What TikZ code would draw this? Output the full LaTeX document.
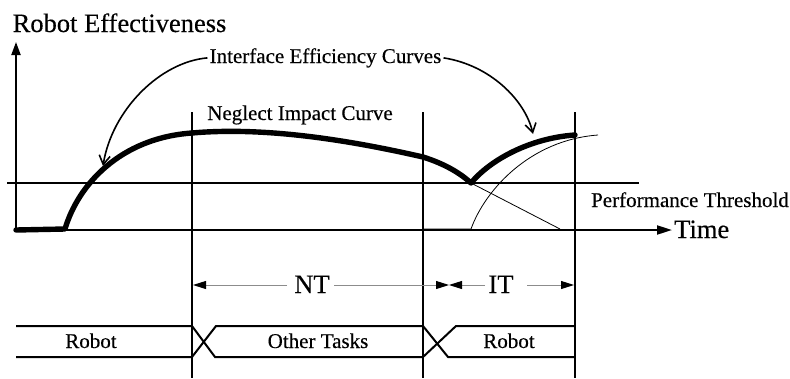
\documentclass[tikz,border=0pt]{standalone}
\usepackage{fontspec}
\setmainfont[FakeBold=0.35]{Liberation Serif}
\usetikzlibrary{arrows.meta}
\begin{document}
\begin{tikzpicture}[x=1pt,y=-1pt,
  axisline/.style={line width=2pt},
  heavycurve/.style={line width=5.4pt, line cap=round, line join=round},
  thincurve/.style={line width=0.8pt},
  barline/.style={line width=2pt},
  dimline/.style={line width=0.9pt, draw=black!45, -{Triangle[length=13pt,width=8pt,color=black]}},
  callout/.style={line width=1.6pt, -{Straight Barb[length=9pt,width=11pt,line width=1.6pt]}},
  bigtext/.style={font=\fontsize{26.5}{30}\selectfont, inner sep=0pt},
  smalltext/.style={font=\fontsize{21}{25}\selectfont, inner sep=0pt},
]
\useasboundingbox (0,0) rectangle (790,378);

% key points
\coordinate (origin) at (16,230);
\coordinate (ytip) at (16,42);
\coordinate (xtip) at (672,230);
\coordinate (thrL) at (7,183);
\coordinate (thrR) at (639,183);
\coordinate (rise) at (65,229);
\coordinate (top1) at (192,133);
\coordinate (mid2) at (423,157);
\coordinate (dip) at (471,183);
\coordinate (end3) at (575,135);
\coordinate (base2) at (423,229);
\coordinate (base3) at (471,229);
\coordinate (thinend) at (598,135);
\coordinate (dropend) at (560,229);
\coordinate (tipL) at (103,166);
\coordinate (tipR) at (533,134);

% vertical separators
\foreach \n/\x in {va/192, vb/423, vc/575}{
  \coordinate (\n t) at (\x,112);
  \coordinate (\n b) at (\x,378);
  \draw[axisline] (\n t) -- (\n b);
}

% axes
\draw[axisline,-{Triangle[length=13pt,width=9pt]}] (origin) -- (ytip);
\draw[axisline,-{Triangle[length=15pt,width=9pt]}] (origin) -- (xtip);
\draw[axisline] (thrL) -- (thrR);

% thin curves
\draw[thincurve] (base2) -- (base3) .. controls (485,190) and (530,140) .. (thinend);
\draw[thincurve] (dip) -- (dropend);

% heavy curve
\draw[heavycurve] (origin) -- (rise) .. controls (78,185) and (120,138) .. (top1)
  .. controls (260,127) and (340,138) .. (mid2)
  .. controls (445,164) and (460,173) .. (dip)
  .. controls (490,160) and (530,138) .. (end3);

% labels
\node[bigtext, anchor=base] (ylab) at (119.5,32) {Robot Effectiveness};
\node[bigtext, anchor=base west] (xlab) at (674,238) {Time};
\node[smalltext, anchor=base] (iec) at (325.5,63) {Interface Efficiency Curves};
\node[smalltext, anchor=base] (nic) at (300,120) {Neglect Impact Curve};
\node[smalltext, anchor=base] (pth) at (690,207) {Performance Threshold};

% callout arrows
\draw[callout] ([xshift=-2pt]iec.west) .. controls (160,62) and (112,110) .. (tipL);
\draw[callout] ([xshift=2pt]iec.east) .. controls (490,65) and (525,100) .. (tipR);

% dimension lines
\node[bigtext, anchor=base] (nt) at (312,293) {NT};
\node[bigtext, anchor=base] (it) at (501,293) {IT};
\coordinate (ntL) at (287,285);
\coordinate (ntR) at (334,285);
\coordinate (itL) at (485,285);
\coordinate (itR) at (527,285);
\coordinate (ntA) at (193,285);
\coordinate (meet) at (449,285);
\coordinate (itA) at (574,285);
\draw[dimline] (ntL) -- (ntA);
\draw[dimline] (ntR) -- (meet);
\draw[dimline] (itL) -- (meet);
\draw[dimline] (itR) -- (itA);

% timing bars
\coordinate (b1tl) at (16,326);  \coordinate (b1bl) at (16,357);
\coordinate (x1tl) at (192,326); \coordinate (x1bl) at (192,357);
\coordinate (x1tr) at (216,326); \coordinate (x1br) at (215,357);
\coordinate (x2tl) at (423,326); \coordinate (x2bl) at (423,357);
\coordinate (x2tr) at (456,326); \coordinate (x2br) at (448,357);
\coordinate (b3tr) at (575,326); \coordinate (b3br) at (575,357);
\draw[barline] (b1tl) -- (x1tl) -- (x1br) -- (x2bl) -- (x2tr) -- (b3tr);
\draw[barline] (b1bl) -- (x1bl) -- (x1tr) -- (x2tl) -- (x2br) -- (b3br);

\node[smalltext, anchor=base] (r1) at (91,348) {Robot};
\node[smalltext, anchor=base] (ot) at (318,348) {Other Tasks};
\node[smalltext, anchor=base] (r2) at (509,348) {Robot};
\end{tikzpicture}
\end{document}
